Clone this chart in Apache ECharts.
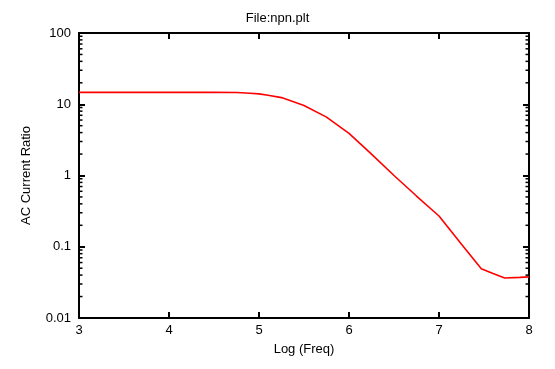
<!DOCTYPE html>
<html>
<head>
<meta charset="utf-8">
<script src="https://cdn.jsdelivr.net/npm/echarts@6/dist/echarts.min.js"></script>
<style>
  html, body { margin: 0; padding: 0; background: #fff; }
  #chart { width: 555px; height: 369px; }
</style>
</head>
<body>
<div id="chart"></div>
<script>
// ---- data ----
const logFreq = [3, 3.5, 4, 4.5, 4.75, 4.9, 5.0, 5.1, 5.25, 5.5, 5.75, 6.0, 6.25, 6.5, 6.75, 7.0, 7.25, 7.47, 7.6, 7.73, 7.9, 8.0];
const currentRatio = [14.7, 14.7, 14.7, 14.7, 14.6, 14.3, 14.0, 13.4, 12.4, 9.6, 6.6, 3.9, 2.0, 1.0, 0.515, 0.27, 0.108, 0.049, 0.042, 0.0365, 0.0372, 0.0378];
const yTickLabels = ['0.01', '0.1', '1', '10', '100'];
const xTickLabels = ['3', '4', '5', '6', '7', '8'];
const yMinorTicks = [0.02, 0.03, 0.04, 0.05, 0.06, 0.07, 0.08, 0.09,
                     0.2, 0.3, 0.4, 0.5, 0.6, 0.7, 0.8, 0.9,
                     2, 3, 4, 5, 6, 7, 8, 9,
                     20, 30, 40, 50, 60, 70, 80, 90];
const titleText = 'File:npn.plt';
const xName = 'Log (Freq)';
const yName = 'AC Current Ratio';

// ---- chart ----
const FONT = "'Liberation Sans', Arial, sans-serif";
const chart = echarts.init(document.getElementById('chart'), null, { renderer: 'canvas' });

const axisLineStyle = { color: '#000', width: 2 };
const majorTick = { show: true, inside: true, length: 6, lineStyle: { color: '#000', width: 2 } };

const option = {
  animation: false,
  backgroundColor: '#fff',
  title: {
    text: titleText,
    left: 'center',
    top: 7,
    textStyle: { fontFamily: FONT, fontSize: 13, fontWeight: 'normal', color: '#000' }
  },
  grid: { left: 79, right: 26, top: 33, bottom: 51, containLabel: false },
  xAxis: [
    {
      type: 'value', min: 3, max: 8, interval: 1, position: 'bottom',
      name: xName, nameLocation: 'middle', nameGap: 25,
      nameTextStyle: { fontFamily: FONT, fontSize: 13, color: '#000' },
      axisLine: { show: true, onZero: false, lineStyle: axisLineStyle },
      axisTick: majorTick,
      axisLabel: {
        margin: 6, fontFamily: FONT, fontSize: 13, color: '#000',
        formatter: (v) => xTickLabels[Math.round(v - 3)]
      },
      splitLine: { show: false }
    },
    {
      type: 'value', min: 3, max: 8, interval: 1, position: 'top',
      axisLine: { show: true, onZero: false, lineStyle: axisLineStyle },
      axisTick: majorTick,
      axisLabel: { show: false },
      splitLine: { show: false }
    }
  ],
  yAxis: [
    {
      type: 'log', logBase: 10, min: 0.01, max: 100, position: 'left',
      name: yName, nameLocation: 'middle', nameGap: 46, nameRotate: 90,
      nameTextStyle: { fontFamily: FONT, fontSize: 13, color: '#000' },
      axisLine: { show: true, onZero: false, lineStyle: axisLineStyle },
      axisTick: majorTick,
      axisLabel: {
        margin: 8, fontFamily: FONT, fontSize: 13, color: '#000',
        formatter: (v, i) => yTickLabels[i]
      },
      splitLine: { show: false }
    },
    {
      type: 'log', logBase: 10, min: 0.01, max: 100, position: 'right',
      axisLine: { show: true, onZero: false, lineStyle: axisLineStyle },
      axisTick: majorTick,
      axisLabel: { show: false },
      splitLine: { show: false }
    }
  ],
  series: [
    {
      type: 'custom',
      xAxisIndex: 0, yAxisIndex: 0,
      silent: true,
      clip: false,
      data: yMinorTicks.map(v => [3, v]),
      renderItem: function (params, api) {
        const v = api.value(1);
        const pL = api.coord([3, v]);
        const pR = api.coord([8, v]);
        const style = { stroke: '#000', lineWidth: 1.5 };
        return {
          type: 'group',
          children: [
            { type: 'line', shape: { x1: pL[0], y1: pL[1], x2: pL[0] + 3.5, y2: pL[1] }, style: style },
            { type: 'line', shape: { x1: pR[0], y1: pR[1], x2: pR[0] - 3.5, y2: pR[1] }, style: style }
          ]
        };
      },
      z: 3
    },
    {
      type: 'line',
      xAxisIndex: 0, yAxisIndex: 0,
      data: logFreq.map((x, i) => [x, currentRatio[i]]),
      showSymbol: false,
      symbol: 'none',
      smooth: false,
      lineStyle: { color: '#ff0000', width: 1.6 },
      z: 4
    }
  ]
};

chart.setOption(option);
</script>
</body>
</html>
